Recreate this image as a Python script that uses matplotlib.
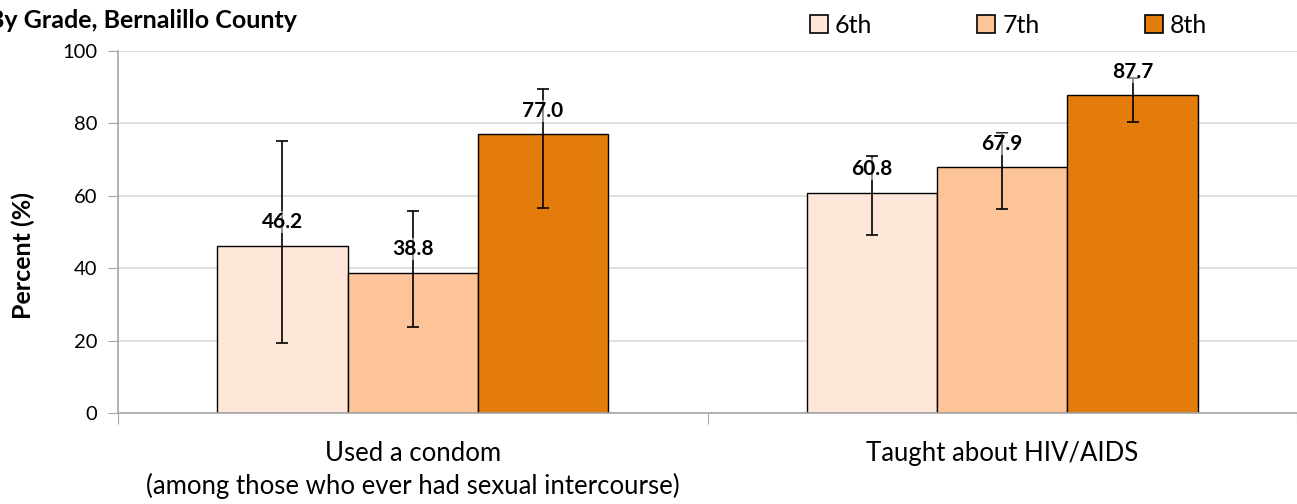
import matplotlib.pyplot as plt
from matplotlib.patches import Patch
import numpy as np

plt.rcParams['font.family'] = ['Lato', 'DejaVu Sans']

categories = ["Used a condom\n(among those who ever had sexual intercourse)", "Taught about HIV/AIDS"]
grades = ["6th", "7th", "8th"]
values = {
    "6th": [46.2, 60.8],
    "7th": [38.8, 67.9],
    "8th": [77.0, 87.7],
}
ci_low = {
    "6th": [19.3, 49.2],
    "7th": [23.8, 56.4],
    "8th": [56.5, 80.5],
}
ci_high = {
    "6th": [75.1, 71.1],
    "7th": [55.8, 77.4],
    "8th": [89.5, 92.4],
}
colors = {"6th": "#FEE6D8", "7th": "#FDC49A", "8th": "#E37C0B"}

fig = plt.figure(figsize=(12.97, 5.04), dpi=100)
ax = fig.add_axes([0.091, 0.1806, 0.909, 0.7183])

x = np.arange(len(categories))
width = 0.221
for i, g in enumerate(grades):
    pos = x + (i - 1) * width
    vals = np.array(values[g])
    err = [vals - np.array(ci_low[g]), np.array(ci_high[g]) - vals]
    ax.bar(pos, vals, width, color=colors[g], edgecolor='black', linewidth=1.0, zorder=2)
    ax.errorbar(pos, vals, yerr=err, fmt='none', ecolor='black', elinewidth=1.2,
                capsize=4, capthick=1.2, zorder=3)
    for p, v in zip(pos, vals):
        ax.annotate(f"{v:.1f}", (p, v), xytext=(0, 17), textcoords='offset points',
                    ha='center', va='center', fontsize=15, fontweight='bold',
                    bbox=dict(boxstyle='square,pad=0.05', fc='white', ec='none', alpha=0.5),
                    zorder=4)

ax.set_xlim(-0.5, 1.5)
ax.set_ylim(0, 100)
ax.set_yticks(range(0, 101, 20))
ax.set_xticks([-0.5, 0.5, 1.5], minor=False)
ax.set_xticklabels([])
ax.set_xticks(x, minor=True)
ax.set_xticklabels(categories, minor=True, fontsize=18.5, linespacing=1.35)
ax.tick_params(axis='x', which='minor', length=0, pad=20)
ax.tick_params(axis='x', which='major', length=8, color='#A6A6A6')
ax.tick_params(axis='y', length=7, color='#A6A6A6', labelsize=14.5, pad=8)
ax.grid(axis='y', color='#D9D9D9', linewidth=1.2, zorder=0)
ax.set_axisbelow(True)
for s in ['top', 'right']:
    ax.spines[s].set_visible(False)
ax.spines['left'].set_color('#A6A6A6')
ax.spines['bottom'].set_color('#A6A6A6')
ax.spines['left'].set_linewidth(1.2)
ax.spines['bottom'].set_linewidth(1.2)
ax.set_ylabel("Percent (%)", fontsize=18, fontweight='bold')
ax.yaxis.set_label_coords(-0.0704, 0.434)

fig.text(0.229, 0.96, "By Grade, Bernalillo County", fontsize=18, fontweight='bold',
         va='center', ha='right')

handles = [Patch(facecolor=colors[g], edgecolor='black', linewidth=1.2) for g in grades]
fig.legend(handles, grades, loc='center left', bbox_to_anchor=(0.6245, 0.950), ncol=3,
           frameon=False, fontsize=18, handlelength=0.72, handleheight=0.72,
           handletextpad=0.28, columnspacing=4.2, borderpad=0, borderaxespad=0)

fig.savefig("out.png", dpi=100)
